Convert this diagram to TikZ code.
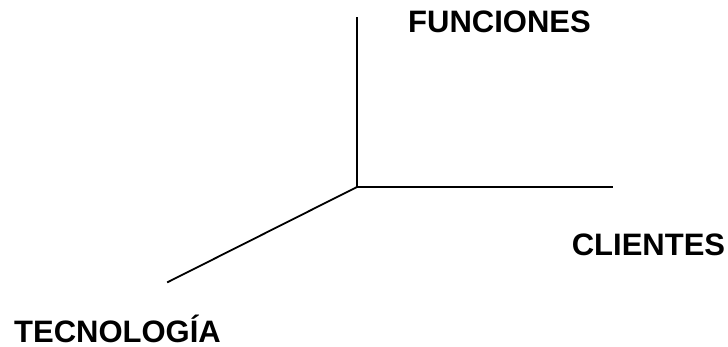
\documentclass[tikz,border=0pt]{standalone}
\usepackage{fontspec}
\setmainfont{Liberation Sans}

\begin{document}
\begin{tikzpicture}[
    x=1pt, y=-1pt, line width=1.8pt,
    axislabel/.style={font=\fontsize{31}{36}\selectfont\bfseries,inner sep=0pt,anchor=base},
    axis/.style={draw=black,line cap=rect}
]
\path[use as bounding box] (0,0) rectangle (728,347);

% origin and the three free ends of the axes
\coordinate (o) at (357,187);
\coordinate (funcEnd) at (357,18);
\coordinate (cliEnd) at (612,187);
\coordinate (tecEnd) at (168,282);
\draw[axis] (o) -- (funcEnd);
\draw[axis] (o) -- (cliEnd);
\draw[axis] (o) -- (tecEnd);

\node[axislabel] (func) at (499.5,33) {FUNCIONES};
\node[axislabel] (cli) at (648.5,256) {CLIENTES};
\node[axislabel] (tec) at (117.5,342) {TECNOLOGÍA};
\end{tikzpicture}
\end{document}
